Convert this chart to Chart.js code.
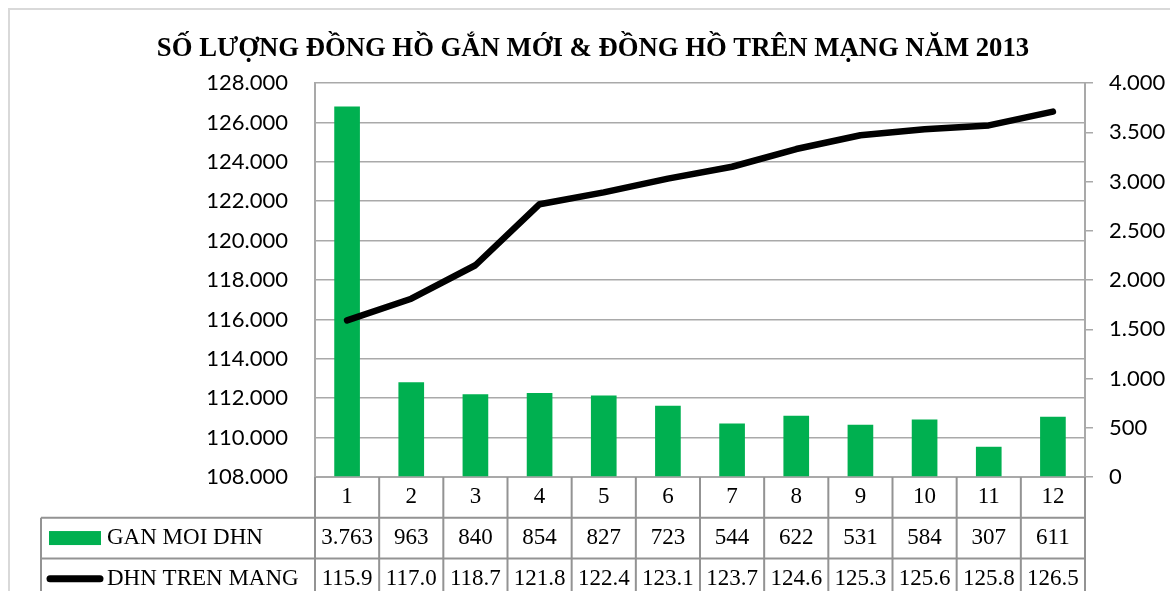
<!DOCTYPE html>
<html>
<head>
<meta charset="utf-8">
<script src="https://cdn.jsdelivr.net/npm/chart.js@4.4.1/dist/chart.umd.min.js"></script>
<style>
  html, body { margin: 0; padding: 0; background: #fff; }
  #wrap { position: relative; width: 1170px; height: 591px; overflow: hidden; }
</style>
</head>
<body>
<div id="wrap"><canvas id="c" width="1170" height="591"></canvas></div>
<script>
const titleText = 'SỐ LƯỢNG ĐỒNG HỒ GẮN MỚI & ĐỒNG HỒ TRÊN MẠNG NĂM 2013';
const categories = ['1','2','3','4','5','6','7','8','9','10','11','12'];
const barLabel = 'GAN MOI DHN';
const lineLabel = 'DHN TREN MANG';
const newMeters = [3763, 963, 840, 854, 827, 723, 544, 622, 531, 584, 307, 611];
const totalMeters = [115950, 117050, 118750, 121850, 122450, 123150, 123750, 124650, 125350, 125650, 125850, 126550];

function dotThousands(v) {
  return String(Math.round(v)).replace(/\B(?=(\d{3})+(?!\d))/g, '.');
}
function shortThousands(v) {
  return (Math.floor(v / 100) / 10).toFixed(1);
}

const GRID = '#a9a9a9';
const TABLE = '#939393';
const GREEN = '#00b050';
const SERIF = "'Liberation Serif', 'Times New Roman', serif";
const SANS = "Lato, 'Open Sans', sans-serif";
const ROW_H = 40.7;

const tablePlugin = {
  id: 'tablePlugin',
  beforeDraw(chart) {
    const ctx = chart.ctx;
    ctx.save();
    ctx.fillStyle = '#fff';
    ctx.fillRect(0, 0, chart.width, chart.height);
    ctx.strokeStyle = '#d9d9d9';
    ctx.lineWidth = 2;
    ctx.strokeRect(9, 9, chart.width + 50, chart.height + 50);
    ctx.restore();
  },
  afterDraw(chart) {
    const ctx = chart.ctx;
    const x = chart.scales.x;
    const area = chart.chartArea;
    const top = area.bottom;
    const bottom = chart.height + 20;
    const tableLeft = 41;
    ctx.save();
    ctx.strokeStyle = TABLE;
    ctx.lineWidth = 2;
    ctx.beginPath();
    const n = categories.length;
    for (let i = 0; i <= n; i++) {
      let px;
      if (i === 0) px = area.left;
      else if (i === n) px = area.right;
      else px = (x.getPixelForTick(i - 1) + x.getPixelForTick(i)) / 2;
      ctx.moveTo(px, top);
      ctx.lineTo(px, bottom);
    }
    for (let r = 1; r <= 2; r++) {
      const py = top + ROW_H * r;
      ctx.moveTo(tableLeft, py);
      ctx.lineTo(area.right, py);
    }
    ctx.moveTo(tableLeft, top + ROW_H);
    ctx.lineTo(tableLeft, bottom);
    ctx.stroke();

    const r1 = top + ROW_H * 1.5;
    const r2 = top + ROW_H * 2.5;
    ctx.fillStyle = GREEN;
    ctx.fillRect(49, r1 - 7, 52, 14);
    ctx.strokeStyle = '#000';
    ctx.lineWidth = 7;
    ctx.lineCap = 'round';
    ctx.beginPath();
    ctx.moveTo(50, r2);
    ctx.lineTo(100, r2);
    ctx.stroke();

    ctx.fillStyle = '#000';
    ctx.font = '23px ' + SERIF;
    ctx.textBaseline = 'middle';
    ctx.textAlign = 'left';
    ctx.fillText(barLabel, 107, r1);
    ctx.fillText(lineLabel, 107, r2);
    ctx.restore();
  }
};

new Chart(document.getElementById('c'), {
  type: 'bar',
  data: {
    labels: categories,
    datasets: [
      {
        type: 'bar',
        label: barLabel,
        data: newMeters,
        yAxisID: 'y1',
        backgroundColor: GREEN,
        borderWidth: 0,
        categoryPercentage: 1,
        barPercentage: 0.4,
        order: 1
      },
      {
        type: 'line',
        label: lineLabel,
        data: totalMeters,
        yAxisID: 'y',
        borderColor: '#000',
        borderWidth: 6.5,
        borderCapStyle: 'round',
        borderJoinStyle: 'round',
        pointRadius: 0,
        tension: 0,
        fill: false,
        order: 0
      }
    ]
  },
  options: {
    responsive: false,
    animation: false,
    layout: { padding: { left: 16, right: 0, top: 0, bottom: 0 } },
    plugins: {
      legend: { display: false },
      tooltip: { enabled: false },
      title: {
        display: true,
        text: titleText,
        color: '#000',
        font: { family: SERIF, size: 26.7, weight: 'bold', lineHeight: 1.2 },
        padding: { top: 33, bottom: 18 }
      }
    },
    scales: {
      x: {
        position: 'bottom',
        offset: true,
        grid: { display: false, drawTicks: false },
        border: { display: true, color: GRID, width: 2 },
        ticks: {
          padding: 0,
          color: '#000',
          maxRotation: 0,
          autoSkip: false,
          font: { family: SERIF, size: 23, lineHeight: ROW_H / 23 },
          callback: (val, i) => [categories[i], dotThousands(newMeters[i]), shortThousands(totalMeters[i])]
        },
        afterFit: (s) => { s.height = 114; }
      },
      y: {
        position: 'left',
        min: 108000,
        max: 128000,
        grid: { color: GRID, lineWidth: 1.5, drawTicks: false },
        border: { display: true, color: GRID, width: 2 },
        ticks: {
          stepSize: 2000,
          padding: 27,
          color: '#000',
          font: { family: SANS, size: 22 },
          callback: (v) => dotThousands(v)
        },
        afterFit: (s) => { s.width = 299; }
      },
      y1: {
        position: 'right',
        min: 0,
        max: 4000,
        grid: { drawOnChartArea: false, drawTicks: true, tickLength: 8, color: GRID, lineWidth: 1.5 },
        border: { display: true, color: GRID, width: 2 },
        ticks: {
          stepSize: 500,
          padding: 16,
          color: '#000',
          font: { family: SANS, size: 22 },
          callback: (v) => dotThousands(v)
        },
        afterFit: (s) => { s.width = 85; }
      }
    }
  },
  plugins: [tablePlugin]
});
</script>
</body>
</html>
